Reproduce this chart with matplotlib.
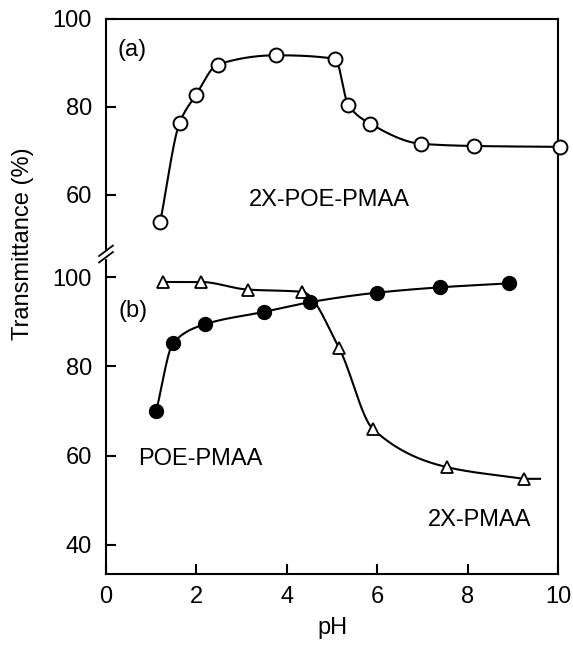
import numpy as np
import matplotlib
matplotlib.use("Agg")
import matplotlib.pyplot as plt

plt.rcParams["font.family"] = ["Liberation Sans", "DejaVu Sans"]

# (a) 2X-POE-PMAA, open circles
ph_a = [1.20, 1.63, 1.99, 2.47, 3.77, 5.07, 5.36, 5.84, 6.97, 8.15, 10.05]
tr_a = [53.9, 76.4, 82.7, 89.6, 91.7, 90.9, 80.4, 76.2, 71.6, 71.1, 70.9]

# (b) POE-PMAA, filled circles
ph_b = [1.11, 1.49, 2.18, 3.49, 4.52, 5.99, 7.38, 8.92]
tr_b = [70.0, 85.3, 89.4, 92.2, 94.4, 96.5, 97.7, 98.6]

# (b) 2X-PMAA, open triangles
ph_c = [1.26, 2.10, 3.13, 4.34, 5.16, 5.90, 7.55, 9.25]
tr_c = [98.9, 98.9, 97.2, 96.7, 84.0, 66.0, 57.4, 54.8]


def pchip(x, y, n=300):
    # monotone cubic (Fritsch-Carlson) for the smooth hand-drawn curves
    x = np.asarray(x, float)
    y = np.asarray(y, float)
    h = np.diff(x)
    d = np.diff(y) / h
    m = np.zeros_like(y)
    m[0], m[-1] = d[0], d[-1]
    for i in range(1, len(x) - 1):
        if d[i - 1] * d[i] > 0:
            w1 = 2 * h[i] + h[i - 1]
            w2 = h[i] + 2 * h[i - 1]
            m[i] = (w1 + w2) / (w1 / d[i - 1] + w2 / d[i])
    xs = np.linspace(x[0], x[-1], n)
    k = np.clip(np.searchsorted(x, xs) - 1, 0, len(x) - 2)
    t = (xs - x[k]) / h[k]
    h00 = 2 * t**3 - 3 * t**2 + 1
    h10 = t**3 - 2 * t**2 + t
    h01 = -2 * t**3 + 3 * t**2
    h11 = t**3 - t**2
    ys = h00 * y[k] + h10 * h[k] * m[k] + h01 * y[k + 1] + h11 * h[k] * m[k + 1]
    return xs, ys


fs = 17
fig = plt.figure(figsize=(5.73, 6.47), dpi=100)
ax1 = fig.add_axes([0.185, 0.609, 0.789, 0.362])
ax2 = fig.add_axes([0.185, 0.113, 0.789, 0.496])

lw = 1.5
# upper panel
xs, ys = pchip(ph_a, tr_a)
ax1.plot(xs, ys, color="black", lw=lw, clip_on=False, zorder=2)
ax1.plot(ph_a, tr_a, "o", ms=10, mfc="white", mec="black", mew=1.4,
         clip_on=False, zorder=3)
ax1.set_xlim(0, 10)
ax1.set_ylim(46.8, 100)
ax1.set_yticks([60, 80, 100])
ax1.set_xticks([])
ax1.spines["bottom"].set_visible(False)
ax1.text(0.58, 93, "(a)", fontsize=fs, ha="center", va="center")
ax1.text(4.95, 58.9, "2X-POE-PMAA", fontsize=fs, ha="center", va="center")

# lower panel
xs, ys = pchip(ph_b, tr_b)
ax2.plot(xs, ys, color="black", lw=lw, zorder=2)
ax2.plot(ph_b, tr_b, "o", ms=10, color="black", zorder=4)
xs, ys = pchip(ph_c, tr_c)
xs = np.append(xs, 9.6)
ys = np.append(ys, ys[-1])
ax2.plot(xs, ys, color="black", lw=lw, zorder=2)
ax2.plot(ph_c, tr_c, "^", ms=9, mfc="white", mec="black", mew=1.3, zorder=3)
ax2.set_xlim(0, 10)
ax2.set_ylim(33.5, 105.4)
ax2.set_yticks([40, 60, 80, 100])
ax2.set_xticks([0, 2, 4, 6, 8, 10])
ax2.spines["top"].set_visible(False)
ax2.text(0.6, 92.4, "(b)", fontsize=fs, ha="center", va="center")
ax2.text(2.08, 59.3, "POE-PMAA", fontsize=fs, ha="center", va="center")
ax2.text(8.26, 45.6, "2X-PMAA", fontsize=fs, ha="center", va="center")
ax2.set_xlabel("pH", fontsize=fs, labelpad=6)

for ax in (ax1, ax2):
    for s in ax.spines.values():
        s.set_linewidth(1.5)
    ax.tick_params(direction="in", length=7, width=1.5, labelsize=fs,
                   right=False, top=False)
    ax.tick_params(axis="y", pad=10)
    ax.tick_params(axis="x", pad=9)

fig.text(0.040, 1 - 243.5 / 647, "Transmittance (%)", rotation=90,
         fontsize=fs, ha="center", va="center")

# axis break mark on the left spine
bx = 0.185
by = 1 - 254 / 647
fig.patches.append(plt.Rectangle((bx - 0.006, by - 0.006), 0.012, 0.012,
                                 transform=fig.transFigure, color="white",
                                 zorder=10))
for dy in (-0.005, 0.005):
    fig.lines.append(plt.Line2D([bx - 0.012, bx + 0.012],
                                [by + dy - 0.008, by + dy + 0.008],
                                transform=fig.transFigure, color="black",
                                lw=1.3, zorder=11))

fig.savefig("out.png", dpi=100)
